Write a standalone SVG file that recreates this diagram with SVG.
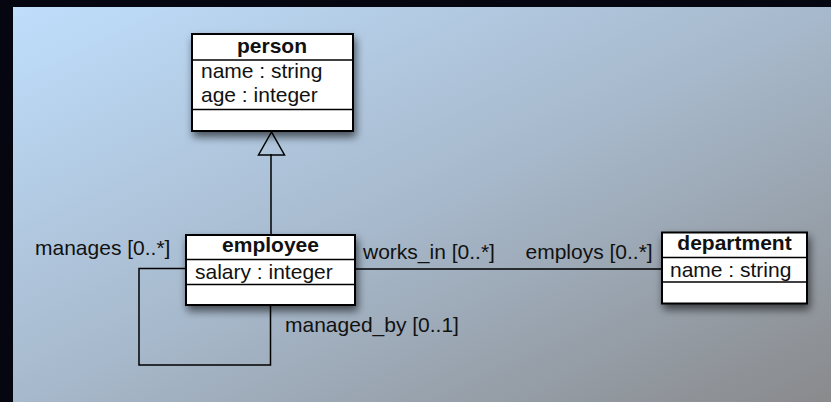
<svg xmlns="http://www.w3.org/2000/svg" width="831" height="402" viewBox="0 0 831 402">
<defs>
<linearGradient id="bg" x1="0" y1="0" x2="1" y2="1">
<stop offset="0" stop-color="#bfdefc"/>
<stop offset="0.5" stop-color="#a7b9cc"/>
<stop offset="1" stop-color="#898a8c"/>
</linearGradient>
<filter id="sh" x="-20%" y="-20%" width="150%" height="160%">
<feDropShadow dx="2" dy="5" stdDeviation="4" flood-color="#000" flood-opacity="0.6"/>
</filter>
<style>
.box{fill:#fff;stroke:#000;stroke-width:2}
.div{stroke:#000;stroke-width:1.5;fill:none}
.ln{stroke:#000;stroke-width:1.5;fill:none}
text{font-family:"Liberation Sans",Arial,sans-serif;font-size:21px;fill:#111}
.t{font-weight:bold;text-anchor:middle}
</style>
</defs>
<rect x="0" y="0" width="831" height="402" fill="#05060f"/>
<rect x="13" y="7" width="818" height="395" fill="url(#bg)"/>
<g id="connectors">
<line class="ln" x1="271" y1="154" x2="271" y2="235"/>
<polygon points="271.5,132 258.5,155 284.5,155" fill="none" stroke="#000" stroke-width="1.5"/>
<line class="ln" x1="355" y1="269" x2="662" y2="269"/>
<polyline class="ln" points="186,268.5 139,268.5 139,365 270.5,365 270.5,305"/>
<text x="35" y="255">manages [0..*]</text>
<text x="285" y="332">managed_by [0..1]</text>
<text x="363" y="259">works_in [0..*]</text>
<text x="652.7" y="259" text-anchor="end">employs [0..*]</text>
</g>
<g id="person">
<rect class="box" x="192" y="34" width="161" height="97" filter="url(#sh)"/>
<line class="div" x1="192" y1="60" x2="353" y2="60"/>
<line class="div" x1="192" y1="109.5" x2="353" y2="109.5"/>
<text class="t" x="272" y="53">person</text>
<text x="201" y="77.5">name : string</text>
<text x="201" y="102">age : integer</text>
</g>
<g id="employee">
<rect class="box" x="186" y="235" width="169" height="70" filter="url(#sh)"/>
<line class="div" x1="186" y1="259.5" x2="355" y2="259.5"/>
<line class="div" x1="186" y1="284.5" x2="355" y2="284.5"/>
<text class="t" x="270.5" y="252">employee</text>
<text x="195" y="278.5">salary : integer</text>
</g>
<g id="department">
<rect class="box" x="662" y="232.5" width="145" height="71" filter="url(#sh)"/>
<line class="div" x1="662" y1="257.5" x2="807" y2="257.5"/>
<line class="div" x1="662" y1="282" x2="807" y2="282"/>
<text class="t" x="734.5" y="250">department</text>
<text x="670" y="276.5">name : string</text>
</g>
</svg>
